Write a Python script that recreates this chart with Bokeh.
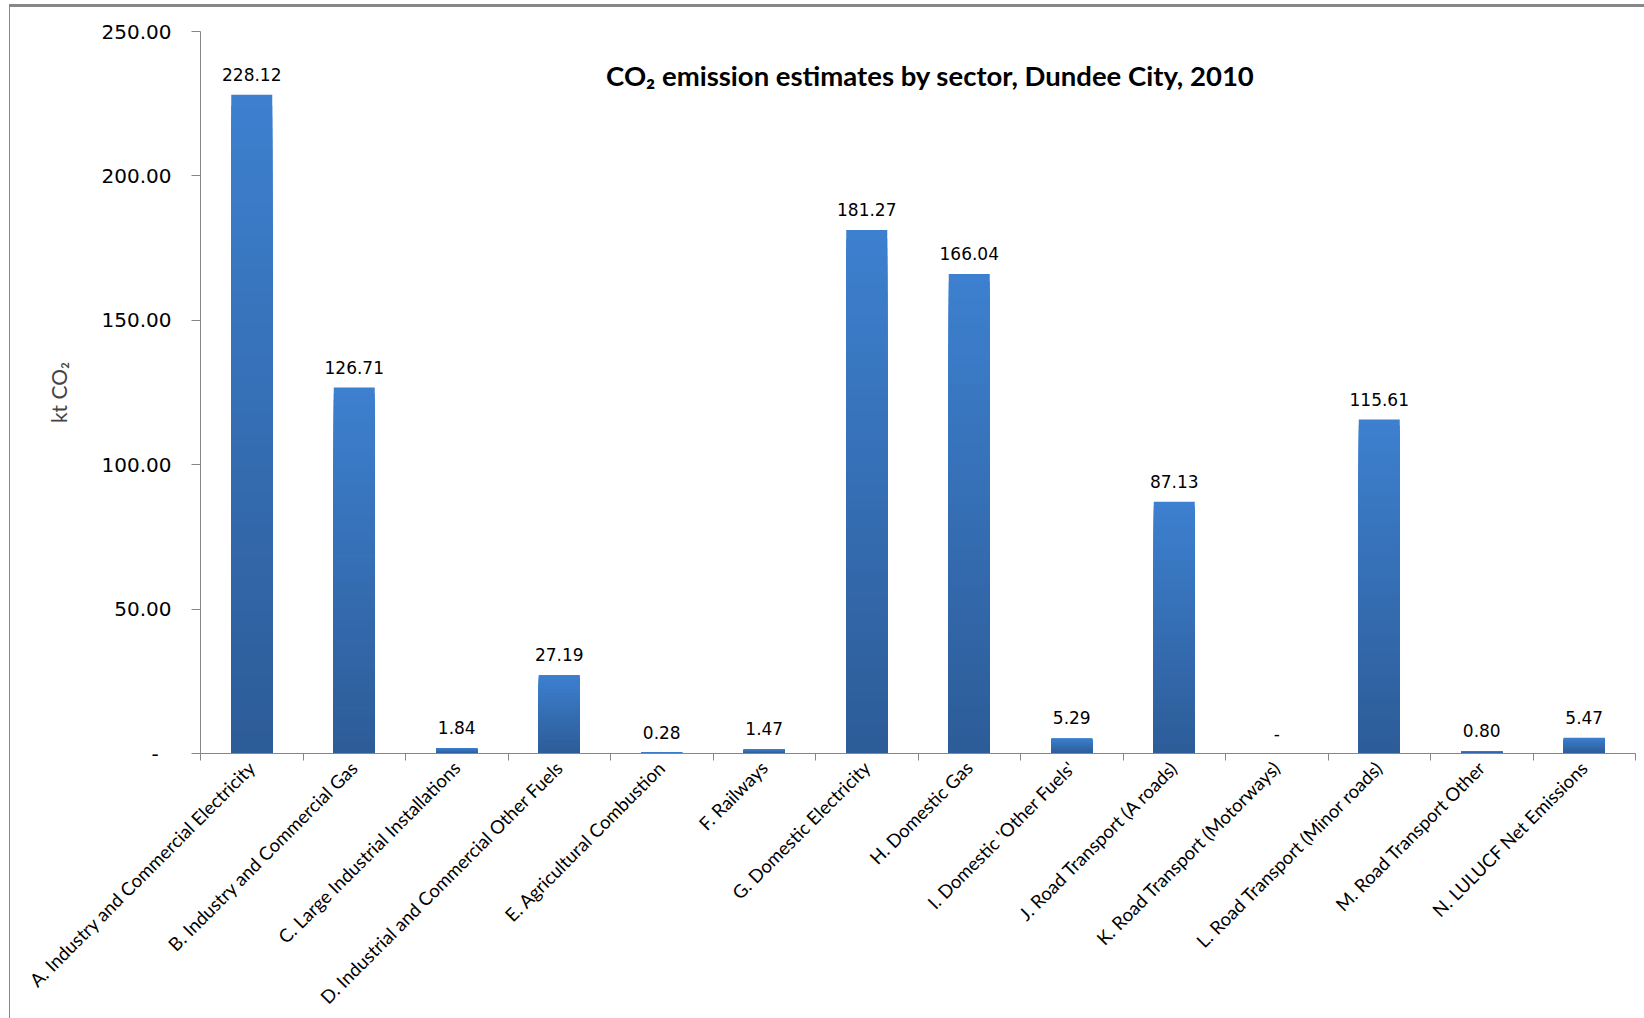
from math import pi
from bokeh.plotting import figure
from bokeh.models import FixedTicker, ColumnDataSource, LabelSet, Label, Range1d
from bokeh.core.properties import value
from bokeh.layouts import column
from bokeh.embed import file_html
from bokeh.resources import INLINE

# ---- data ----
categories = [
    "A. Industry and Commercial Electricity",
    "B. Industry and Commercial Gas",
    "C. Large Industrial Installations",
    "D. Industrial and Commercial Other Fuels",
    "E. Agricultural Combustion",
    "F. Railways",
    "G. Domestic Electricity",
    "H. Domestic Gas",
    "I. Domestic 'Other Fuels'",
    "J. Road Transport (A roads)",
    "K. Road Transport (Motorways)",
    "L. Road Transport (Minor roads)",
    "M. Road Transport Other",
    "N. LULUCF Net Emissions",
]
values = [228.12, 126.71, 1.84, 27.19, 0.28, 1.47, 181.27, 166.04, 5.29, 87.13, 0.0, 115.61, 0.80, 5.47]
y_ticks = [0, 50, 100, 150, 200, 250]
y_tick_labels = ["-\u00a0\u00a0", "50.00", "100.00", "150.00", "200.00", "250.00"]
title_text = "CO\u2082 emission estimates by sector, Dundee City, 2010"
y_label = "kt CO\u2082"

n = len(categories)
xs = [i + 0.5 for i in range(n)]
labels = [f"{v:.2f}" if v else "-" for v in values]

AXIS = "#868686"
TOP = (61, 128, 207)
BOT = (45, 92, 152)

p = figure(width=1634, height=1011, output_backend="svg", toolbar_location=None,
           x_range=Range1d(0, n), y_range=Range1d(0, 250),
           min_border_left=190, min_border_right=9, min_border_top=24, min_border_bottom=265)
p.background_fill_color = "white"
p.border_fill_color = "white"
p.outline_line_color = None
p.xgrid.visible = False
p.ygrid.visible = False

# gradient bars (top light -> bottom dark), layered from each bar's own value
N = 60
for k in range(N):
    t = k / (N - 1)
    c = tuple(int(round(TOP[j] + (BOT[j] - TOP[j]) * t)) for j in range(3))
    col = "#%02x%02x%02x" % c
    p.vbar(x=xs, top=[v * (1 - k / N) for v in values], width=0.4,
           fill_color=col, line_color=None)

src = ColumnDataSource(dict(x=xs, value=values, label=labels))
p.add_layout(LabelSet(x="x", y="value", text="label", source=src, y_offset=14,
                      text_align="center", text_baseline="bottom",
                      text_font=value("DejaVu Sans"), text_font_size=value("17px"),
                      text_color="black"))

p.add_layout(Label(x=7.12, y=234.7, text=title_text, text_align="center", text_baseline="middle",
                   text_font="Lato", text_font_style="bold", text_font_size="27.5px",
                   text_color="black"))

# y axis
ya = p.yaxis[0]
ya.ticker = FixedTicker(ticks=y_ticks)
ya.major_label_overrides = {t: l for t, l in zip(y_ticks, y_tick_labels)}
ya.axis_line_color = AXIS
ya.major_tick_line_color = AXIS
ya.major_tick_out = 9
ya.major_tick_in = 0
ya.minor_tick_line_color = None
ya.major_label_standoff = 20
ya.major_label_text_font = "DejaVu Sans"
ya.major_label_text_font_size = "20px"
ya.major_label_text_color = "black"
ya.axis_label = y_label
ya.axis_label_text_font = "Lato"
ya.axis_label_text_font_style = "normal"
ya.axis_label_text_font_size = "21px"
ya.axis_label_standoff = 28

# x axis: labels at bar centres, ticks at category boundaries
xa = p.xaxis[0]
xa.ticker = FixedTicker(ticks=xs, minor_ticks=list(range(n + 1)))
xa.major_label_overrides = {x: c for x, c in zip(xs, categories)}
xa.axis_line_color = AXIS
xa.major_tick_line_color = None
xa.major_tick_out = 0
xa.major_tick_in = 0
xa.minor_tick_line_color = AXIS
xa.minor_tick_out = 7
xa.minor_tick_in = 0
xa.major_label_orientation = pi / 4
xa.major_label_standoff = 4
xa.major_label_text_font = "Lato"
xa.major_label_text_font_size = "18.5px"
xa.major_label_text_color = "black"

layout = column(p, margin=(4, 0, 0, 9),
                styles={"border-top": "3px solid #878787", "border-left": "1px solid #878787"})

open("out.html", "w").write(file_html(layout, INLINE))
